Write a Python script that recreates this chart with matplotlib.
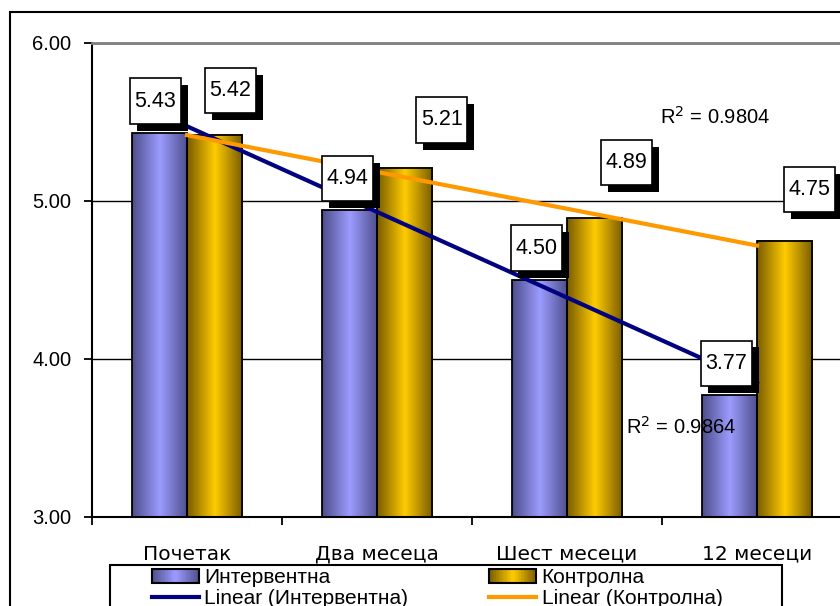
import numpy as np
import matplotlib
matplotlib.use('Agg')
import matplotlib.pyplot as plt
from matplotlib.colors import LinearSegmentedColormap
from matplotlib.patches import Rectangle, Patch
from matplotlib.lines import Line2D
from matplotlib.legend_handler import HandlerBase
import matplotlib.patheffects as pe

plt.rcParams['font.family'] = ['Liberation Sans', 'DejaVu Sans']

# data
categories = ['Почетак', 'Два месеца', 'Шест месеци', '12 месеци']
interv = [5.43, 4.94, 4.50, 3.77]
control = [5.42, 5.21, 4.89, 4.75]
r2_interv = '0.9864'
r2_control = '0.9804'
yticks = [3.00, 4.00, 5.00, 6.00]

# label box offsets from bar top (pixels)
interv_offsets = [(-4, 32), (-2, 32), (-3, 32), (-3, 32)]
control_offsets = [(16, 44), (37, 48), (32, 56), (25, 51)]

cm_blue = LinearSegmentedColormap.from_list('b', ['#4e4e8c', '#9c9cff', '#4e4e8c'])
cm_gold = LinearSegmentedColormap.from_list('g', ['#7a5c00', '#ffcc00', '#7a5c00'])


class GradientHandler(HandlerBase):
    def __init__(self, cmap):
        super().__init__()
        self.cmap = cmap

    def create_artists(self, legend, orig_handle, xdescent, ydescent,
                       width, height, fontsize, trans):
        n = 30
        arts = []
        for k in range(n):
            arts.append(Rectangle((-xdescent + width * k / n, -ydescent), width / n, height,
                                  facecolor=self.cmap((k + 0.5) / n), edgecolor='none',
                                  transform=trans))
        arts.append(Rectangle((-xdescent, -ydescent), width, height, fill=False,
                              edgecolor='black', lw=1.5, transform=trans))
        return arts


fig = plt.figure(figsize=(8.4, 6.06), dpi=100)
ax = fig.add_axes([92 / 840, 1 - 517 / 606, 760 / 840, 474 / 606])

x = np.arange(len(categories))
w = 0.29
bars_i = ax.bar(x - w / 2, interv, w, color='none', edgecolor='black', lw=1.3, zorder=3)
bars_c = ax.bar(x + w / 2, control, w, color='none', edgecolor='black', lw=1.3, zorder=3)

ax.set_xlim(-0.5, 3.5)
ax.set_ylim(3, 6)

grad = np.linspace(0, 1, 64).reshape(1, -1)
for bars, cmap in [(bars_i, cm_blue), (bars_c, cm_gold)]:
    for b in bars:
        x0 = b.get_x()
        y0 = max(b.get_y(), ax.get_ylim()[0])
        im = ax.imshow(grad, cmap=cmap, aspect='auto', zorder=2,
                       extent=[x0, x0 + b.get_width(), y0, b.get_y() + b.get_height()])
        im.set_clip_path(b)
        im.set_clip_box(ax.bbox)

# linear trend lines
for vals, col in [(interv, '#000080'), (control, '#ff9900')]:
    k, m = np.polyfit(x, vals, 1)
    ax.plot(x, k * x + m, color=col, lw=3, zorder=4)

ax.set_xlim(-0.5, 3.5)
ax.set_ylim(3, 6)
ax.set_yticks(yticks)
ax.set_yticklabels(['%.2f' % t for t in yticks], fontsize=14.5)
ax.tick_params(axis='y', direction='out', length=6, width=1.3, pad=9)
ax.set_xticks(np.arange(-0.5, 4, 1))
ax.set_xticklabels([])
ax.tick_params(axis='x', which='major', direction='out', length=6, width=1.3)
ax.set_xticks(x, minor=True)
ax.set_xticklabels(categories, minor=True, fontsize=14.5, family=['DejaVu Sans'])
ax.tick_params(axis='x', which='minor', length=0, pad=20)

ax.set_axisbelow(True)
ax.yaxis.grid(True, color='black', lw=1)
for s in ['left', 'bottom']:
    ax.spines[s].set_linewidth(1.5)
ax.spines['top'].set_color('#808080')
ax.spines['top'].set_linewidth(2)
ax.spines['right'].set_visible(False)

shadow = [pe.withSimplePatchShadow(offset=(5, -5), shadow_rgbFace='black', alpha=1.0)]
for bars, vals, offs in [(bars_i, interv, interv_offsets), (bars_c, control, control_offsets)]:
    for b, v, o in zip(bars, vals, offs):
        t = ax.annotate('%.2f' % v, (b.get_x() + b.get_width() / 2, v),
                        xytext=o, textcoords='offset pixels', ha='center', va='center',
                        fontsize=15.5, zorder=6,
                        bbox=dict(boxstyle='square,pad=0.22', fc='white', ec='black',
                                  lw=1.2, mutation_aspect=2.6))
        t.get_bbox_patch().set_path_effects(shadow)

ax.text(2.779, 5.532, 'R$^2$ = ' + r2_control, fontsize=14.5, ha='center', va='center', zorder=7)
ax.text(2.600, 3.570, 'R$^2$ = ' + r2_interv, fontsize=14.5, ha='center', va='center', zorder=7)

# outer chart frame and legend frame
fig.add_artist(Rectangle((10 / 840, -0.5), 2, 0.5 + 1 - 12 / 606, transform=fig.transFigure,
                         fill=False, ec='black', lw=1.5))
fig.add_artist(Rectangle((110 / 840, -0.5), 672 / 840, 0.5 + 1 - 565 / 606,
                         transform=fig.transFigure, fill=False, ec='black', lw=1.5))

h_i = Patch(label='Интервентна')
h_c = Patch(label='Контролна')
l_i = Line2D([], [], color='#000080', lw=3, label='Linear (Интервентна)')
l_c = Line2D([], [], color='#ff9900', lw=3, label='Linear (Контролна)')
leg = fig.legend(handles=[h_i, l_i, h_c, l_c], ncol=2, loc='upper left',
                 bbox_to_anchor=(150 / 840, 1 - 566 / 606), borderaxespad=0,
                 fontsize=15, frameon=False,
                 handlelength=2.25, handletextpad=0.25, columnspacing=3.9,
                 labelspacing=0.1, borderpad=0.1,
                 handler_map={h_i: GradientHandler(cm_blue), h_c: GradientHandler(cm_gold)})

fig.savefig('out.png', dpi=100)
